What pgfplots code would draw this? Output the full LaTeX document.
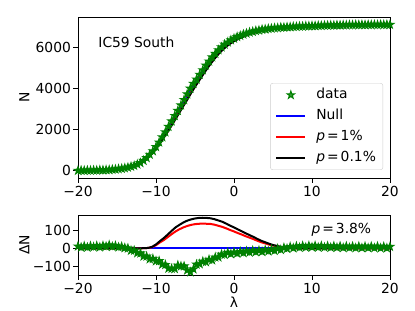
\documentclass[border=0pt]{standalone}
\usepackage{fontspec}
\setmainfont{DejaVu Sans}
\usepackage{pgfplots}
\pgfplotsset{compat=1.18}
\usepackage{pgfplotstable}
\definecolor{mgreen}{rgb}{0,0.5,0}
\pgfdeclareplotmark{fstar}{%
  \pgfpathmoveto{\pgfpointpolar{90}{\pgfplotmarksize}}%
  \pgfpathlineto{\pgfpointpolar{126}{0.382*\pgfplotmarksize}}%
  \pgfpathlineto{\pgfpointpolar{162}{\pgfplotmarksize}}%
  \pgfpathlineto{\pgfpointpolar{198}{0.382*\pgfplotmarksize}}%
  \pgfpathlineto{\pgfpointpolar{234}{\pgfplotmarksize}}%
  \pgfpathlineto{\pgfpointpolar{270}{0.382*\pgfplotmarksize}}%
  \pgfpathlineto{\pgfpointpolar{306}{\pgfplotmarksize}}%
  \pgfpathlineto{\pgfpointpolar{342}{0.382*\pgfplotmarksize}}%
  \pgfpathlineto{\pgfpointpolar{18}{\pgfplotmarksize}}%
  \pgfpathlineto{\pgfpointpolar{54}{0.382*\pgfplotmarksize}}%
  \pgfpathclose
  \pgfusepathqfillstroke}

\pgfplotstableread{
lam N dN
-20.0 -6 11
-19.6 2 5
-19.2 -3 12
-18.8 7 5
-18.4 3 12
-18.0 11 7
-17.6 10 13
-17.2 22 6
-16.8 19 14
-16.4 30 10
-16.0 30 18
-15.6 49 9
-15.2 55 14
-14.8 77 6
-14.4 91 9
-14.0 118 2
-13.6 148 0
-13.2 194 -12
-12.8 236 -12
-12.4 302 -26
-12.0 367 -27
-11.6 480 -44
-11.2 612 -44
-10.8 779 -59
-10.4 945 -57
-10.0 1150 -70
-9.6 1373 -69
-9.2 1628 -88
-8.8 1870 -90
-8.4 2136 -110
-8.0 2401 -111
-7.6 2666 -112
-7.2 2911 -93
-6.8 3180 -98
-6.4 3442 -98
-6.0 3720 -120
-5.6 3994 -130
-5.2 4230 -114
-4.8 4444 -88
-4.4 4674 -86
-4.0 4892 -72
-3.6 5119 -75
-3.2 5318 -62
-2.8 5521 -65
-2.4 5693 -49
-2.0 5869 -49
-1.6 6005 -33
-1.2 6141 -35
-0.8 6246 -24
-0.4 6353 -31
0.0 6432 -22
0.4 6510 -28
0.8 6567 -19
1.2 6633 -25
1.6 6678 -16
2.0 6732 -22
2.4 6763 -13
2.8 6804 -20
3.2 6828 -12
3.6 6865 -19
4.0 6880 -10
4.4 6906 -16
4.8 6917 -7
5.2 6941 -13
5.6 6946 -2
6.0 6968 -8
6.4 6969 3
6.8 6986 -2
7.2 6987 8
7.6 7004 1
8.0 7004 11
8.4 7019 4
8.8 7018 13
9.2 7034 5
9.6 7032 14
10.0 7044 6
10.4 7041 14
10.8 7055 5
11.2 7052 13
11.6 7065 5
12.0 7063 12
12.4 7074 4
12.8 7069 12
13.2 7080 4
13.6 7076 11
14.0 7087 3
14.4 7081 11
14.8 7091 3
15.2 7086 10
15.6 7096 2
16.0 7090 10
16.4 7099 2
16.8 7092 10
17.2 7101 2
17.6 7094 10
18.0 7103 2
18.4 7096 10
18.8 7105 1
19.2 7098 9
19.6 7107 1
20.0 7101 9
}\datatab

\pgfplotstableread{
lam null red black
-20 5 5 5
-19.5 7 7 7
-19 10 10 10
-18.5 14 14 14
-18 18 18 18
-17.5 24 24 24
-17 30 30 30
-16.5 38 38 38
-16 48 48 48
-15.5 60 60 60
-15 75 75 75
-14.5 95 95 95
-14 120 120 120
-13.5 155 155 155
-13 200 200 200
-12.5 260 260 260
-12 340 340 340
-11.5 460 460 460
-11 640 638 638
-10.5 840 834 832
-10 1080 1063 1059
-9.5 1360 1328 1321
-9 1660 1615 1604
-8.5 1960 1899 1885
-8 2290 2213 2195
-7.5 2620 2528 2506
-7 2950 2846 2822
-6.5 3280 3166 3139
-6 3600 3478 3449
-5.5 3930 3802 3772
-5 4240 4108 4077
-4.5 4530 4396 4364
-4 4820 4685 4653
-3.5 5100 4966 4934
-3 5360 5227 5196
-2.5 5600 5471 5441
-2 5820 5697 5668
-1.5 6010 5893 5865
-1 6170 6061 6035
-0.5 6300 6200 6176
0 6410 6318 6296
0.5 6500 6417 6397
1 6580 6505 6487
1.5 6650 6584 6568
2 6710 6652 6638
2.5 6760 6710 6698
3 6800 6759 6749
3.5 6840 6807 6799
4 6870 6843 6837
4.5 6895 6875 6870
5 6920 6905 6902
5.5 6940 6929 6927
6 6960 6954 6952
6.5 6975 6971 6970
7 6990 6988 6987
7.5 7003 7002 7002
8 7015 7015 7015
8.5 7025 7025 7025
9 7035 7035 7035
9.5 7043 7043 7043
10 7050 7050 7050
10.5 7057 7057 7057
11 7063 7063 7063
11.5 7069 7069 7069
12 7075 7075 7075
12.5 7079 7079 7079
13 7083 7083 7083
13.5 7087 7087 7087
14 7090 7090 7090
14.5 7093 7093 7093
15 7095 7095 7095
15.5 7098 7098 7098
16 7100 7100 7100
16.5 7101 7101 7101
17 7102 7102 7102
17.5 7104 7104 7104
18 7105 7105 7105
18.5 7106 7106 7106
19 7107 7107 7107
19.5 7109 7109 7109
20 7110 7110 7110
}\toptab

\pgfplotstableread{
lam red black
-20 0 0
-12 0 0
-11.5 0.5 0.5
-11 2 2
-10.5 6 8
-10 17 21
-9.5 32 39
-9 45 56
-8.5 61 75
-8 77 95
-7.5 92 114
-7 104 128
-6.5 114 141
-6 122 151
-5.5 128 158
-5 132 163
-4.5 134 166
-4 135 167
-3.5 134 166
-3 133 164
-2.5 129 159
-2 123 152
-1.5 117 145
-1 109 135
-0.5 100 124
0 92 114
0.5 83 103
1 75 93
1.5 66 82
2 58 72
2.5 50 62
3 41 51
3.5 33 41
4 27 33
4.5 20 25
5 15 18
5.5 11 13
6 6 8
6.5 4 5
7 2 3
7.5 1 1
8 0 0
20 0 0
}\bottab

\pgfplotsset{
  myax/.style={
    scale only axis, width=312bp,
    xmin=-20, xmax=20,
    xtick={-20,-10,0,10,20},
    xticklabels={−20,−10,0,10,20},
    tick align=outside, tick pos=left,
    major tick length=4.9bp,
    axis line style={line width=0.9bp},
    every tick/.append style={line width=0.9bp, black},
    xticklabel style={inner sep=3bp},
    yticklabel style={inner sep=2bp},
  },
  linelegend/.style={legend image code/.code={\draw[##1] (0bp,0bp) -- (29bp,0bp);}},
}

\begin{document}
\fontsize{13.9}{16}\selectfont
\begin{tikzpicture}
\path[use as bounding box] (0,0) rectangle (415bp,311bp);
\begin{axis}[myax,
  at={(78bp,294bp)}, anchor=north west,
  height=161bp,
  ymin=-366, ymax=7476,
  ytick={0,2000,4000,6000},
  yticklabels={0,2000,4000,6000},
  ylabel={N},
  ylabel style={at={(axis description cs:-0.155,0.5)}, anchor=south, inner sep=0pt},
  legend cell align=left,
  legend style={at={(0.978,0.05)}, anchor=south east,
    draw=black!20, rounded corners=2.5bp, fill=white, fill opacity=0.8, text opacity=1,
    inner xsep=5bp, inner ysep=3bp,
    row sep=3.5bp,
    nodes={inner sep=2bp, text height=10.5bp, text depth=3bp},
    /tikz/every odd column/.append style={column sep=8bp}},
]
\addplot[only marks, mark=fstar, mark size=4bp,
  mark options={draw=mgreen, fill=mgreen, line width=1bp},
  legend image code/.code={\draw[##1] plot coordinates {(14.5bp,0bp)};}]
  table[x=lam, y=N] {\datatab};
\addlegendentry{data}
\addplot[blue, line width=2bp, linelegend] table[x=lam, y=null] {\toptab};
\addlegendentry{Null}
\addplot[red, line width=2bp, linelegend] table[x=lam, y=red] {\toptab};
\addlegendentry{\textit{p}\kern2bp=\kern2bp1\%}
\addplot[black, line width=2bp, linelegend] table[x=lam, y=black] {\toptab};
\addlegendentry{\textit{p}\kern2bp=\kern2bp0.1\%}
\node[anchor=west] at (rel axis cs:0.05,0.845) {IC59 South};
\end{axis}

\begin{axis}[myax,
  at={(78bp,96bp)}, anchor=north west,
  height=60bp,
  ymin=-146, ymax=182,
  ytick={-100,0,100},
  yticklabels={−100,0,100},
  ylabel={ΔN},
  ylabel style={at={(axis description cs:-0.155,0.5)}, anchor=south, inner sep=0pt},
  xlabel={λ},
  xlabel style={at={(axis description cs:0.5,-0.535)}, anchor=base, inner sep=0pt},
]
\addplot[only marks, mark=fstar, mark size=4bp,
  mark options={draw=mgreen, fill=mgreen, line width=1bp}]
  table[x=lam, y=dN] {\datatab};
\addplot[blue, line width=2bp] coordinates {(-20,0) (20,0)};
\addplot[red, line width=2bp] table[x=lam, y=red] {\bottab};
\addplot[black, line width=2bp] table[x=lam, y=black] {\bottab};
\node[anchor=east] at (rel axis cs:0.955,0.75) {\textit{p}\kern2bp=\kern2bp3.8\%};
\end{axis}
\end{tikzpicture}
\end{document}
